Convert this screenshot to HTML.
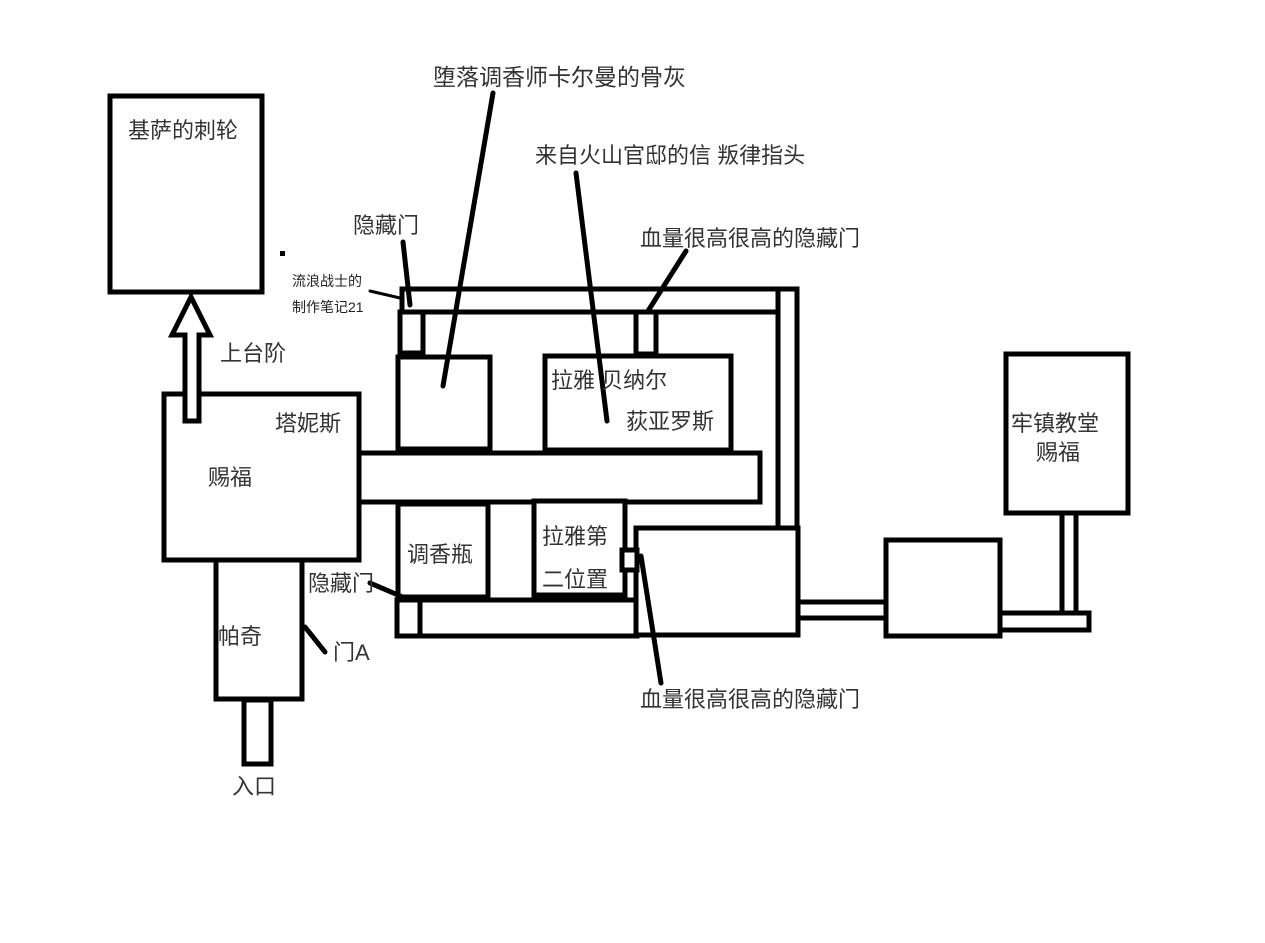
<!DOCTYPE html>
<html><head><meta charset="utf-8"><style>
html,body{margin:0;padding:0;background:#fff;}
svg{display:block;}
text{font-family:"Liberation Sans","Noto Sans CJK SC",sans-serif;fill:#333;}
</style></head><body>
<svg width="1265" height="943" viewBox="0 0 1265 943" xmlns="http://www.w3.org/2000/svg">
<g fill="#fff" stroke="#000" stroke-width="5">
<rect x="110" y="96" width="152" height="196"/>
<rect x="164" y="394" width="195" height="166"/>
<rect x="216" y="560" width="86" height="139"/>
<rect x="244" y="700" width="27" height="64"/>
<rect x="402" y="289" width="395" height="23"/>
<rect x="778" y="289" width="19" height="240"/>
<rect x="400" y="312" width="23" height="41"/>
<rect x="636" y="312" width="20" height="42"/>
<rect x="398" y="357" width="92" height="92"/>
<rect x="545" y="356" width="186" height="94"/>
<rect x="359" y="453" width="401" height="49"/>
<rect x="397" y="600" width="240" height="36"/>
<rect x="397" y="600" width="23" height="36"/>
<rect x="398" y="504" width="90" height="93"/>
<rect x="534" y="501" width="91" height="94"/>
<rect x="636" y="528" width="162" height="107"/>
<rect x="622" y="550" width="15" height="20"/>
<rect x="798" y="602" width="88" height="16"/>
<rect x="886" y="540" width="114" height="96"/>
<rect x="1000" y="613" width="89" height="17"/>
<rect x="1062" y="513" width="14" height="100"/>
<rect x="1006" y="354" width="122" height="159"/>
</g>
<path d="M185,421 L185,335 L172,335 L191,297 L210,335 L199,335 L199,421 Z" fill="#fff" stroke="#000" stroke-width="5" stroke-linejoin="miter"/>
<g stroke="#000" stroke-width="5" stroke-linecap="round">
<line x1="493" y1="93" x2="443" y2="386"/>
<line x1="576" y1="173" x2="607" y2="421"/>
<line x1="686" y1="251" x2="648" y2="311"/>
<line x1="641" y1="556" x2="661" y2="683"/>
<line x1="403" y1="242" x2="410" y2="305"/>
<line x1="370" y1="583" x2="405" y2="598"/>
<line x1="305" y1="627" x2="325" y2="652"/>
<line x1="370" y1="291" x2="400" y2="298" stroke-width="3"/>
</g>
<rect x="280" y="251" width="5" height="5" fill="#000"/>
<g font-size="22">
<text x="128" y="138">基萨的刺轮</text>
<text x="220" y="361">上台阶</text>
<text x="275" y="431">塔妮斯</text>
<text x="208" y="485">赐福</text>
<text x="218" y="644">帕奇</text>
<text x="333" y="660">门A</text>
<text x="232" y="794">入口</text>
<text x="308" y="591">隐藏门</text>
<text x="353" y="233">隐藏门</text>
<text x="433" y="85" font-size="23">堕落调香师卡尔曼的骨灰</text>
<text x="535" y="163">来自火山官邸的信 叛律指头</text>
<text x="640" y="246">血量很高很高的隐藏门</text>
<text x="551" y="388">拉雅 贝纳尔</text>
<text x="626" y="429">荻亚罗斯</text>
<text x="407" y="562">调香瓶</text>
<text x="542" y="544">拉雅第</text>
<text x="542" y="587">二位置</text>
<text x="640" y="707">血量很高很高的隐藏门</text>
<text x="1011" y="431">牢镇教堂</text>
<text x="1036" y="460">赐福</text>
</g>
<g font-size="14">
<text x="292" y="286" style="fill:#222">流浪战士的</text>
<text x="292" y="312" style="fill:#222">制作笔记21</text>
</g>
</svg>
</body></html>
